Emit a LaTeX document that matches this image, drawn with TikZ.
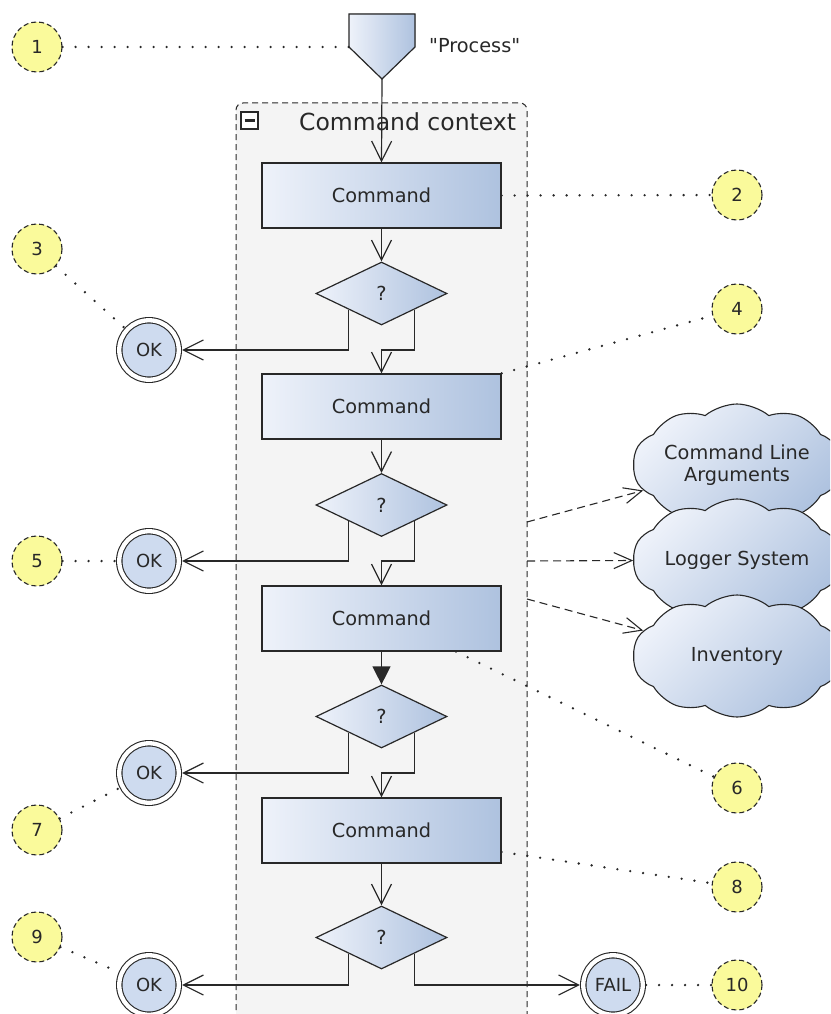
\documentclass[tikz,border=0pt]{standalone}
\usepackage{fontspec}
\setmainfont{DejaVu Sans}[Ligatures=TeXOff]
\usetikzlibrary{arrows.meta,shapes.geometric,shapes.symbols,calc}

\definecolor{nodeL}{RGB}{238,242,250}
\definecolor{nodeR}{RGB}{174,194,223}
\definecolor{okfill}{RGB}{206,219,239}
\definecolor{notefill}{RGB}{250,250,155}
\definecolor{ctxfill}{RGB}{244,244,244}
\definecolor{ink}{RGB}{40,40,40}

\newcommand\fsmain{\fontsize{19.3}{22}\selectfont}
\newcommand\fshead{\fontsize{23.5}{28}\selectfont}
\newcommand\fssmall{\fontsize{18}{21}\selectfont}

\begin{document}
\begin{tikzpicture}[x=1pt,y=-1pt,
  cmd/.style={draw=ink, line width=1.2pt, left color=nodeL, right color=nodeR,
    minimum width=239pt, minimum height=65pt, inner sep=0pt, font=\fsmain, text=ink},
  choice/.style={diamond, draw=ink, line width=1.2pt, left color=nodeL, right color=nodeR,
    minimum width=131pt, minimum height=63pt, inner sep=0pt, font=\fsmain, text=ink},
  final/.style={circle, draw=ink, line width=1.1pt, double=white, double distance=4.3pt,
    fill=okfill, minimum size=59.5pt, inner sep=0pt, outer sep=3.3pt, font=\fssmall, text=ink},
  note/.style={circle, draw=ink, line width=1.1pt, dash pattern=on 5pt off 3pt,
    fill=notefill, minimum size=50pt, inner sep=0pt, font=\fssmall, text=ink},
  resource/.style={cloud, cloud puffs=10, cloud puff arc=80, cloud ignores aspect,
    draw=ink, line width=1.1pt,
    top color=nodeL, bottom color=nodeR, shading angle=45, minimum width=208pt,
    minimum height=122pt, inner sep=0pt, font=\fsmain, text=ink, align=center},
  flow/.style={draw=ink, line width=1.2pt, -{Straight Barb[length=20pt,width=20pt]}},
  flowfilled/.style={draw=ink, line width=1.2pt, -{Triangle[length=18pt,width=18pt]}},
  usage/.style={draw=ink, line width=1.1pt, dash pattern=on 8pt off 5pt,
    -{Straight Barb[length=18pt,width=16pt]}},
  anno/.style={draw=ink, line width=2.6pt, line cap=round, dash pattern=on 0pt off 13pt},
]
\clip (0,0) rectangle (830,1014);
\fill[white] (0,0) rectangle (830,1014);

% command context frame
\path[draw=ink, line width=1pt, dash pattern=on 6pt off 4pt, fill=ctxfill, rounded corners=7pt]
  (236,1040) -- (236,103) -- (527,103) -- (527,1040);
\draw[ink, line width=1.1pt, fill=white] (241,112) rectangle (258,129);
\draw[ink, line width=2.4pt] (244.5,120.5) -- (254.5,120.5);
\node[anchor=west, font=\fshead, text=ink, inner sep=0pt] (ctxlabel) at (299,122) {Command context};

% process start
\filldraw[draw=ink, line width=1.2pt, left color=nodeL, right color=nodeR]
  (349,14) -- (415,14) -- (415,47) -- (382,79) -- (349,47) -- cycle;
\coordinate (ptip) at (382,79);
\coordinate (pside) at (349,47);
\node[anchor=west, font=\fsmain, text=ink, inner sep=0pt] (plabel) at (429,46) {"Process"};

% commands and choices
\node[cmd] (b1) at (381.5,195.5) {Command};
\node[choice] (d1) at (381.5,293.5) {?};
\node[cmd] (b2) at (381.5,406.5) {Command};
\node[choice] (d2) at (381.5,505) {?};
\node[cmd] (b3) at (381.5,618.5) {Command};
\node[choice] (d3) at (381.5,716.5) {?};
\node[cmd] (b4) at (381.5,830.5) {Command};
\node[choice] (d4) at (381.5,937.5) {?};

\coordinate (j1) at (381.5,350);
\coordinate (j2) at (381.5,561);
\coordinate (j3) at (381.5,773);

% final states
\node[final] (ok1) at (149,350) {OK};
\node[final] (ok2) at (149,561) {OK};
\node[final] (ok3) at (149,773) {OK};
\node[final] (ok4) at (149,985) {OK};
\node[final] (fail) at (613,985) {FAIL};

% flow
\draw[flow] (ptip) -- (b1.north);
\draw[flow] (b1) -- (d1);
\draw[flow] (d1.south west) |- (ok1);
\draw[flow] (d1.south east) |- (j1) -- (b2.north);
\draw[flow] (b2) -- (d2);
\draw[flow] (d2.south west) |- (ok2);
\draw[flow] (d2.south east) |- (j2) -- (b3.north);
\draw[flowfilled] (b3) -- (d3);
\draw[flow] (d3.south west) |- (ok3);
\draw[flow] (d3.south east) |- (j3) -- (b4.north);
\draw[flow] (b4) -- (d4);
\draw[flow] (d4.south west) |- (ok4);
\draw[flow] (d4.south east) |- (fail);

% shared resources
\node[resource] (args) at (737,465) {Command Line\\Arguments};
\node[resource] (logger) at (737,560) {Logger System};
\node[resource] (inv) at (737,656) {Inventory};
\coordinate (u1) at (527,522);
\coordinate (u2) at (527,561);
\coordinate (u3) at (527,599);
\draw[usage] (u1) -- (args);
\draw[usage] (u2) -- (logger);
\draw[usage] (u3) -- (inv);

% numbered notes
\node[note] (n1) at (37,47) {1};
\node[note] (n2) at (737,195) {2};
\node[note] (n3) at (37,249) {3};
\node[note] (n4) at (737,309) {4};
\node[note] (n5) at (37,561) {5};
\node[note] (n6) at (737,788) {6};
\node[note] (n7) at (37,830) {7};
\node[note] (n8) at (737,887) {8};
\node[note] (n9) at (37,937) {9};
\node[note] (n10) at (737,985) {10};

\draw[anno] (n1) -- (pside);
\draw[anno] (b1.east) -- (n2);
\draw[anno] (n3) -- (ok1);
\draw[anno] (b2.north east) -- (n4);
\draw[anno] (n5) -- (ok2);
\draw[anno] ($(b3.south)!0.62!(b3.south east)$) -- (n6);
\draw[anno] (n7) -- (ok3);
\draw[anno] ($(b4.east)!0.65!(b4.south east)$) -- (n8);
\draw[anno] (n9) -- (ok4);
\draw[anno] (fail) -- (n10);
\end{tikzpicture}
\end{document}
